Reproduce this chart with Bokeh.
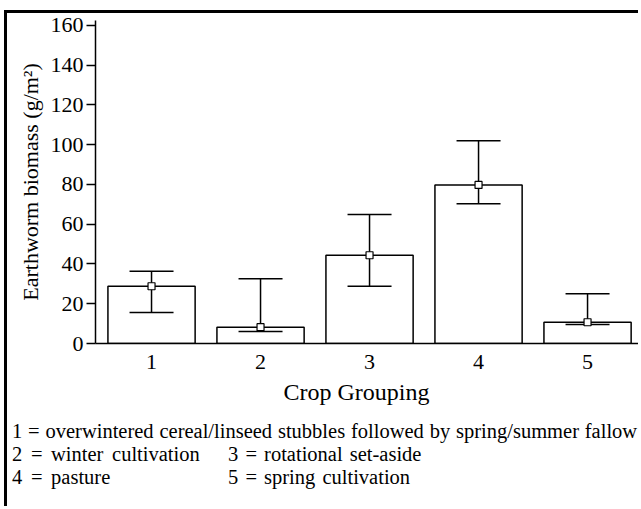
from bokeh.plotting import figure
from bokeh.layouts import column
from bokeh.models import ColumnDataSource, FixedTicker, Range1d, Div
from bokeh.embed import file_html
from bokeh.resources import INLINE

# ---- data ----
groups = [1, 2, 3, 4, 5]
biomass = [28.8, 8.2, 44.4, 79.8, 10.7]
upper_ci = [36.4, 32.6, 64.9, 102.0, 25.0]
lower_ci = [15.6, 6.0, 28.8, 70.3, 9.6]
y_ticks = [0, 20, 40, 60, 80, 100, 120, 140, 160]
x_tick_labels = ["1", "2", "3", "4", "5"]
key_line1 = "1 = overwintered cereal/linseed stubbles followed by spring/summer fallow"
key_pairs = [("2 = winter cultivation", "3 = rotational set-aside"),
             ("4 = pasture", "5 = spring cultivation")]

FONT = "Liberation Serif"

src = ColumnDataSource(dict(x=groups, top=biomass, upper=upper_ci, lower=lower_ci))

p = figure(width=634, height=400,
           x_range=Range1d(0.486, 5.495), y_range=Range1d(0, 162.5),
           output_backend="svg", toolbar_location=None,
           min_border_left=88, min_border_top=7, min_border_right=0,
           min_border_bottom=70)
p.styles = {"border-left": "3px solid black", "border-top": "3px solid black",
            "margin-left": "4px", "margin-top": "10px"}
p.outline_line_color = None
p.xgrid.visible = False
p.ygrid.visible = False
p.background_fill_color = "white"
p.border_fill_color = "white"

p.vbar(x="x", top="top", bottom=0, width=0.8, source=src,
       fill_color="white", line_color="black", line_width=1.5)
p.segment(x0="x", y0="lower", x1="x", y1="upper", source=src,
          line_color="black", line_width=1.5)
p.scatter(x="x", y="upper", source=src, marker="dash", size=44,
          line_color="black", line_width=1.5)
p.scatter(x="x", y="lower", source=src, marker="dash", size=44,
          line_color="black", line_width=1.5)
p.scatter(x="x", y="top", source=src, marker="square", size=7,
          fill_color="white", line_color="black", line_width=1.2)

# y axis
p.yaxis.ticker = FixedTicker(ticks=y_ticks)
p.yaxis.minor_tick_line_color = None
p.yaxis.major_tick_in = 0
p.yaxis.major_tick_out = 9
p.yaxis.major_tick_line_width = 1.5
p.yaxis.axis_line_width = 1.5
p.yaxis.major_label_standoff = 3
p.yaxis.major_label_text_font = FONT
p.yaxis.major_label_text_font_size = "22px"
p.yaxis.major_label_text_color = "black"
p.yaxis.axis_label = "Earthworm biomass (g/m²)"
p.yaxis.axis_label_text_font = FONT
p.yaxis.axis_label_text_font_size = "22px"
p.yaxis.axis_label_text_font_style = "normal"
p.yaxis.axis_label_text_color = "black"
p.yaxis.axis_label_standoff = 5

# x axis
p.xaxis.ticker = FixedTicker(ticks=groups)
p.xaxis.major_label_overrides = {g: t for g, t in zip(groups, x_tick_labels)}
p.xaxis.major_tick_line_color = None
p.xaxis.minor_tick_line_color = None
p.xaxis.major_tick_in = 0
p.xaxis.major_tick_out = 0
p.xaxis.axis_line_width = 1.5
p.xaxis.major_label_standoff = 11
p.xaxis.major_label_text_font = FONT
p.xaxis.major_label_text_font_size = "22px"
p.xaxis.major_label_text_color = "black"
# trailing no-break spaces nudge the centred label slightly left, as in the original
p.xaxis.axis_label = "Crop Grouping" + "\u00a0" * 4
p.xaxis.axis_label_text_font = FONT
p.xaxis.axis_label_text_font_size = "24px"
p.xaxis.axis_label_text_font_style = "normal"
p.xaxis.axis_label_text_color = "black"
p.xaxis.axis_label_standoff = 7

# ---- key below the chart (HTML text) ----
rows_html = [f"<div style='word-spacing:0.7px'>{key_line1}</div>"]
for a, b in key_pairs:
    rows_html.append(
        f"<div style='word-spacing:3.5px'>"
        f"<span style='display:inline-block;width:216px'>{a}</span>"
        f"<span style='word-spacing:2px'>{b}</span></div>")
key_html = (
    "<div style=\"margin-left:4px;border-left:3px solid black;height:96px;"
    "box-sizing:border-box;padding:10px 0 0 5px;white-space:nowrap;"
    f"font-family:'{FONT}';font-size:20.5px;line-height:23px;color:black;\">"
    + "".join(rows_html) + "</div>")
key = Div(text=key_html, width=641, height=96, margin=0)

layout = column(p, key, spacing=0)

open("out.html", "w").write(file_html(layout, INLINE))
